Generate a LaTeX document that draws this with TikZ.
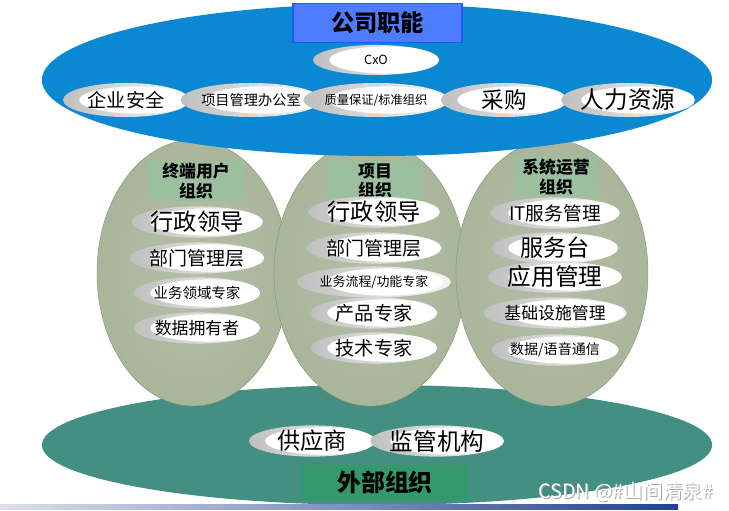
\documentclass[tikz,border=0pt]{standalone}
\usepackage{fontspec}
\setmainfont{Noto Sans CJK SC}
\usetikzlibrary{shapes.geometric}
\definecolor{lanse}{HTML}{0B88D2}
\definecolor{lanbian}{HTML}{0674C0}
\definecolor{biaolan}{HTML}{4E7CFF}
\definecolor{biaobian}{HTML}{1F58FF}
\definecolor{luqian}{HTML}{B5BEA9}
\definecolor{lushen}{HTML}{9DAE8B}
\definecolor{toulu}{HTML}{9CBF9F}
\definecolor{qinglu}{HTML}{438F82}
\definecolor{waibu}{HTML}{33996A}
\definecolor{tiaoqian}{HTML}{DCE0EA}
\definecolor{tiaoshen}{HTML}{22428F}
\pgfdeclareradialshading{gongsi}{\pgfpoint{0bp}{0bp}}{color(0bp)=(lanse); color(32bp)=(lanse); color(50bp)=(lanbian)}
\pgfdeclareradialshading{zuzhi}{\pgfpoint{0bp}{0bp}}{color(0bp)=(luqian); color(50bp)=(lushen)}
\begin{document}
\begin{tikzpicture}[x=0.025cm,y=-0.025cm,
    pill/.style={ellipse,inner sep=0pt,minimum width=3.15cm,minimum height=0.78cm,
      left color=gray!50,right color=gray!8,
      path picture={\fill[white] ([xshift=0.28cm]path picture bounding box.center) ellipse [x radius=1.45cm,y radius=0.34cm];}},
    org/.style={ellipse,inner sep=0pt,minimum width=4.8cm,minimum height=6.65cm,shade,shading=zuzhi,draw=lushen!85!black,line width=0.3pt},
    tou/.style={rectangle,fill=toulu,inner sep=0pt,minimum height=1.02cm,align=center,font=\bfseries\fontsize{12}{14}\selectfont},
    wz/.style={font=\fontsize{#1}{#1}\selectfont}]
\useasboundingbox (0,0) rectangle (729,511);
% 外部组织
\node[ellipse,inner sep=0pt,fill=qinglu,minimum width=16.75cm,minimum height=3cm] (wb) at (377,445) {};
\foreach \n/\x in {zd/193,xm/370,yy/552}
  \node[org] (\n) at (\x,273) {};
% 公司职能
\node[ellipse,inner sep=0pt,shade,shading=gongsi,minimum width=16.75cm,minimum height=3.8cm] (gs) at (377,80) {};
\node[draw=biaobian,fill=biaolan,line width=1pt,inner sep=0pt,minimum width=4.22cm,minimum height=0.98cm,
  font=\bfseries\fontsize{16.5}{16.5}\selectfont] (gsbt) at (377.5,23) {公司职能};
\node[pill,minimum height=0.75cm,wz=9] (cxo) at (376,60) {CxO};
\foreach \n/\x/\s/\t in {aq/126/13.6/企业安全,xmb/251/10.1/项目管理办公室,zl/376/8.7/{质量保证/标准组织},
    cg/504/16/采购,rl/628/16.8/人力资源}
  \node[pill,minimum height=0.85cm,wz=\s] (\n) at (\x,100) {\t};
% 三个组织
\node[tou,minimum width=2.38cm] (zdbt) at (196,181) {终端用户\\组织};
\node[tou,minimum width=2.38cm] (xmbt) at (375,181) {项目\\组织};
\node[tou,minimum width=2.1cm] (yybt) at (556,177) {系统运营\\组织};
\foreach \n/\x/\y/\s/\t in {
    zd1/197/222/16.5/行政领导,zd2/197/258/13.5/部门管理层,zd3/197/293/10.3/业务领域专家,zd4/197/328/12/数据拥有者,
    xm1/374/212/16.5/行政领导,xm2/374/248/13.5/部门管理层,xm3/374/282/9.2/{业务流程/功能专家},
    xm4/374/313/13.6/产品专家,xm5/374/348/13.6/技术专家,
    yy1/555/213/13.3/IT服务管理,yy2/555/248/16.5/服务台,yy3/555/277/16.8/应用管理,
    yy4/555/313/12/基础设施管理,yy5/555/350/10/{数据/语音通信},
    gys/312/441/16.5/供应商,jg/437/441/16.8/监管机构}
  \node[pill,wz=\s] (\n) at (\x,\y) {\t};
\node[fill=waibu,inner sep=0pt,minimum width=4.15cm,minimum height=0.88cm,
  font=\bfseries\fontsize{17}{17}\selectfont] (wbbt) at (385,482.5) {外部组织};
\shade[left color=tiaoqian,right color=tiaoshen] (0,504) rectangle (678,509);
\node[wz=14,text=gray!70] (yinying) at (626.8,492.8) {CSDN @\#山间清泉\#};
\node[wz=14,text=white] (shuiyin) at (626,492) {CSDN @\#山间清泉\#};
\end{tikzpicture}
\end{document}
